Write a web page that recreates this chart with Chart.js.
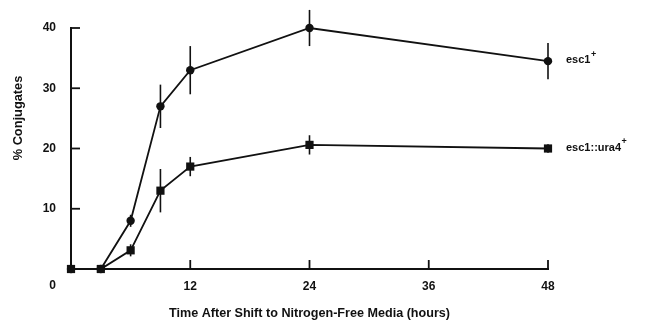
<!DOCTYPE html>
<html>
<head>
<meta charset="utf-8">
<script src="https://cdn.jsdelivr.net/npm/chart.js@4/dist/chart.umd.min.js"></script>
<style>
  html, body { margin: 0; padding: 0; background: #fff; }
  #wrap { width: 647px; height: 331px; position: relative; }
</style>
</head>
<body>
<div id="wrap"><canvas id="c" width="647" height="331"></canvas></div>
<script>
const hours = [0, 3, 6, 9, 12, 24, 48];
const esc1 = [0, 0, 8, 27, 33, 40, 34.5];
const esc1Err = [0, 0, 1, 3.6, 4, 3, 3];
const ura4 = [0, 0, 3.1, 13, 17, 20.6, 20];
const ura4Err = [0, 0, 1, 3.6, 1.6, 1.6, 0.7];
const seriesNames = ['esc1', 'esc1::ura4'];
const seriesSup = ['+', '+'];
const xTickValues = [0, 12, 24, 36, 48];
const yTickValues = [0, 10, 20, 30, 40];
const xTitle = 'Time After Shift to Nitrogen-Free Media (hours)';
const yTitle = '% Conjugates';

const INK = '#111';
const FONT = '"Liberation Sans", Arial, Helvetica, sans-serif';

const errors = [esc1Err, ura4Err];

const custom = {
  id: 'custom',
  beforeDatasetsDraw(chart) {
    const ctx = chart.ctx;
    const xs = chart.scales.x, ys = chart.scales.y;
    ctx.save();
    ctx.strokeStyle = INK;
    ctx.lineWidth = 1.6;
    chart.data.datasets.forEach((ds, i) => {
      ds.data.forEach((p, j) => {
        const e = errors[i][j];
        if (!e) return;
        const px = xs.getPixelForValue(p.x);
        ctx.beginPath();
        ctx.moveTo(px, ys.getPixelForValue(p.y + e));
        ctx.lineTo(px, ys.getPixelForValue(p.y - e));
        ctx.stroke();
      });
    });
    ctx.restore();
  },
  afterDraw(chart) {
    const ctx = chart.ctx;
    const xs = chart.scales.x, ys = chart.scales.y;
    const area = chart.chartArea;
    ctx.save();
    ctx.strokeStyle = INK;
    ctx.lineWidth = 1.8;
    // inward ticks
    xTickValues.forEach(v => {
      if (v === 0) return;
      const px = xs.getPixelForValue(v);
      ctx.beginPath();
      ctx.moveTo(px, area.bottom);
      ctx.lineTo(px, area.bottom - 9);
      ctx.stroke();
    });
    yTickValues.forEach(v => {
      if (v === 0) return;
      const py = ys.getPixelForValue(v);
      ctx.beginPath();
      ctx.moveTo(area.left, py);
      ctx.lineTo(area.left + 9, py);
      ctx.stroke();
    });
    // series labels
    ctx.fillStyle = INK;
    ctx.textBaseline = 'middle';
    ctx.textAlign = 'left';
    chart.data.datasets.forEach((ds, i) => {
      const last = ds.data[ds.data.length - 1];
      const px = xs.getPixelForValue(last.x) + 18;
      const py = ys.getPixelForValue(last.y) - 1;
      ctx.font = 'bold 11px ' + FONT;
      ctx.fillText(seriesNames[i], px, py);
      const w = ctx.measureText(seriesNames[i]).width;
      ctx.font = 'bold 9px ' + FONT;
      ctx.fillText(seriesSup[i], px + w + 0.5, py - 6);
    });
    // y title
    ctx.font = 'bold 12.8px ' + FONT;
    ctx.textAlign = 'center';
    ctx.translate(18, area.top + 90);
    ctx.rotate(-Math.PI / 2);
    ctx.fillText(yTitle, 0, 0);
    ctx.restore();
  }
};

new Chart(document.getElementById('c'), {
  type: 'line',
  data: {
    datasets: [
      {
        label: seriesNames[0],
        data: hours.map((h, i) => ({ x: h, y: esc1[i] })),
        borderColor: INK, backgroundColor: INK, borderWidth: 1.8,
        pointStyle: 'circle', pointRadius: 4.2, pointHoverRadius: 4.2,
        pointBorderWidth: 0, tension: 0, order: 2, clip: false
      },
      {
        label: seriesNames[1],
        data: hours.map((h, i) => ({ x: h, y: ura4[i] })),
        borderColor: INK, backgroundColor: INK, borderWidth: 1.8,
        pointStyle: 'rect', pointRadius: 5.8, pointHoverRadius: 5.8,
        pointBorderWidth: 0, tension: 0, order: 1, clip: false
      }
    ]
  },
  options: {
    responsive: false,
    animation: false,
    layout: { padding: { top: 28, right: 99, left: 0, bottom: 0 } },
    plugins: { legend: { display: false }, tooltip: { enabled: false } },
    scales: {
      x: {
        type: 'linear', min: 0, max: 48,
        afterFit(s) { s.height = 62; },
        border: { display: true, color: INK, width: 2 },
        grid: { display: false, drawTicks: false },
        afterBuildTicks(s) { s.ticks = xTickValues.map(v => ({ value: v })); },
        ticks: {
          padding: 10,
          color: INK,
          font: { family: FONT, size: 12, weight: 'bold' },
          callback: v => (v === 0 ? '' : String(v)),
          maxRotation: 0
        },
        title: {
          display: true, text: xTitle, color: INK,
          font: { family: FONT, size: 12.6, weight: 'bold' },
          padding: { top: 0, bottom: 10 }
        }
      },
      y: {
        type: 'linear', min: 0, max: 40,
        afterFit(s) { s.width = 71; },
        border: { display: true, color: INK, width: 2 },
        grid: { display: false, drawTicks: false },
        afterBuildTicks(s) { s.ticks = yTickValues.map(v => ({ value: v })); },
        ticks: {
          padding: 15,
          color: INK,
          font: { family: FONT, size: 12, weight: 'bold', lineHeight: 1.35 },
          callback: v => (v === 0 ? ['', '', '0'] : String(v))
        }
      }
    }
  },
  plugins: [custom]
});
</script>
</body>
</html>
